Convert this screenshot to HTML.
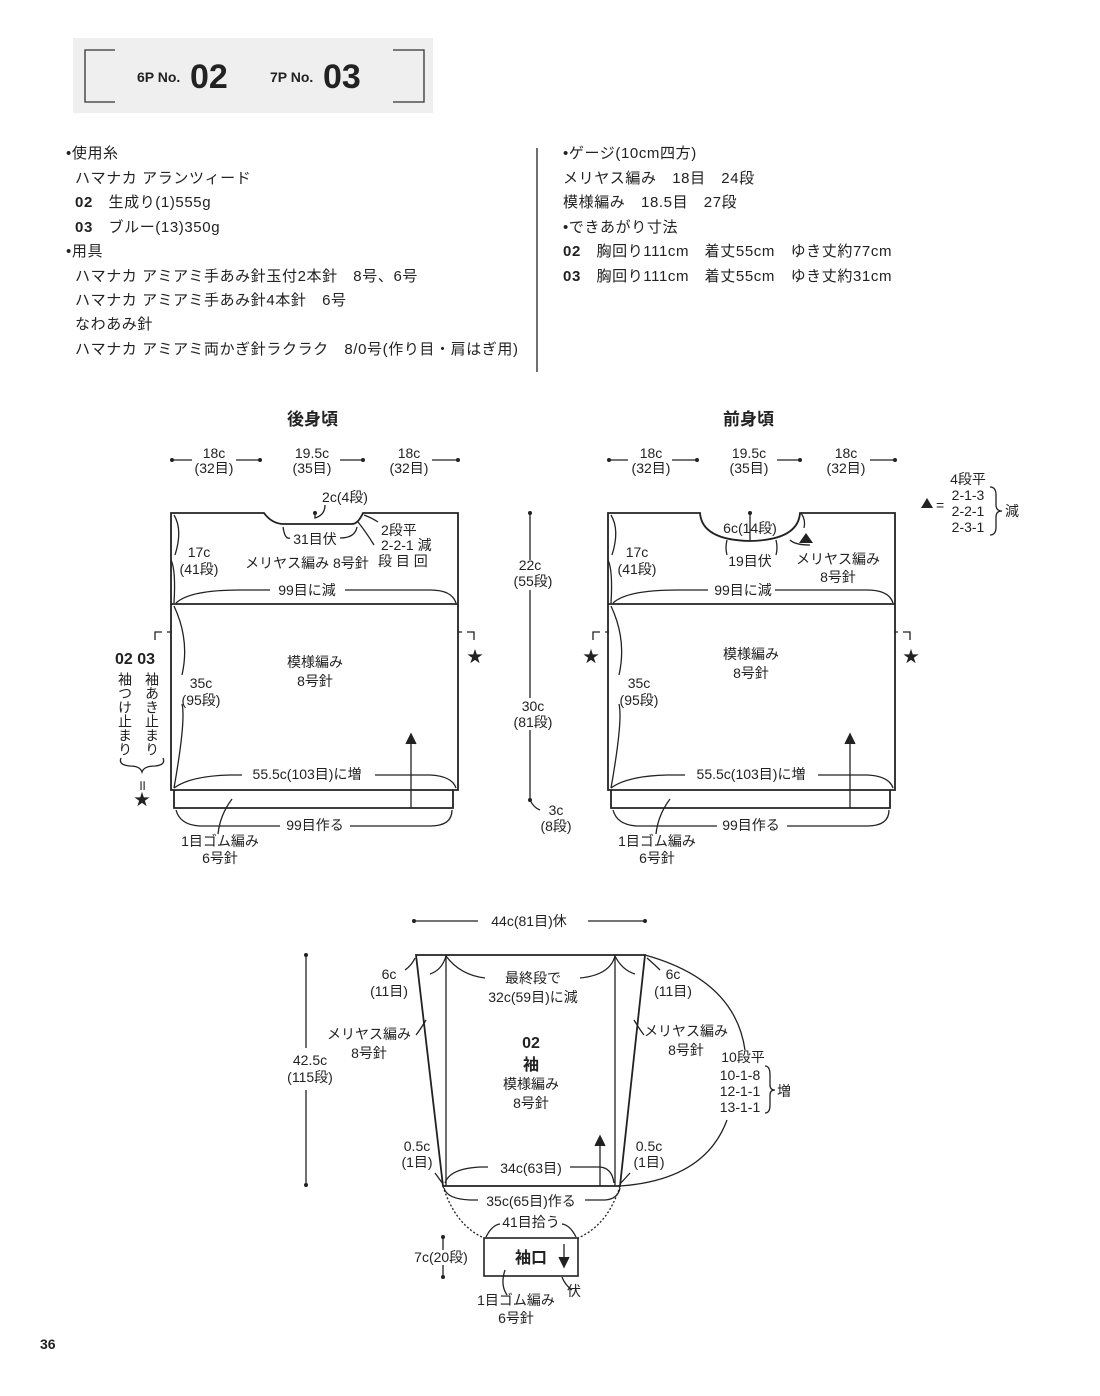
<!DOCTYPE html>
<html><head><meta charset="utf-8"><style>
body{margin:0;background:#fff}
svg{display:block}
text{font-family:"Liberation Sans","Noto Sans CJK JP",sans-serif;fill:#222}
.t{font-size:14px}
.b{font-size:15px;letter-spacing:0.6px}
</style></head><body>
<svg width="1100" height="1396" viewBox="0 0 1100 1396" xmlns="http://www.w3.org/2000/svg">
<g stroke="#222" fill="none" stroke-width="1.3">
<rect x="73" y="38" width="360" height="75" fill="#efefef" stroke="none"/>
<path d="M115 50H85V102H115M393 50H424V102H393" stroke="#333"/>
<line x1="537" y1="148" x2="537" y2="372"/>
</g>
<text x="137" y="82" style="font-size:14px;font-weight:bold">6P No.</text>
<text x="190" y="88" style="font-size:34px;font-weight:bold">02</text>
<text x="270" y="82" style="font-size:14px;font-weight:bold">7P No.</text>
<text x="323" y="88" style="font-size:34px;font-weight:bold">03</text>
<g class="b">
<text x="66" y="158">•使用糸</text>
<text x="75" y="183">ハマナカ アランツィード</text>
<text x="75" y="207"><tspan font-weight="bold">02</tspan>　生成り(1)555g</text>
<text x="75" y="232"><tspan font-weight="bold">03</tspan>　ブルー(13)350g</text>
<text x="66" y="256">•用具</text>
<text x="75" y="281">ハマナカ アミアミ手あみ針玉付2本針　8号、6号</text>
<text x="75" y="305">ハマナカ アミアミ手あみ針4本針　6号</text>
<text x="75" y="329">なわあみ針</text>
<text x="75" y="354">ハマナカ アミアミ両かぎ針ラクラク　8/0号(作り目・肩はぎ用)</text>
<text x="563" y="158">•ゲージ(10cm四方)</text>
<text x="563" y="183">メリヤス編み　18目　24段</text>
<text x="563" y="207">模様編み　18.5目　27段</text>
<text x="563" y="232">•できあがり寸法</text>
<text x="563" y="256"><tspan font-weight="bold">02</tspan>　胸回り111cm　着丈55cm　ゆき丈約77cm</text>
<text x="563" y="281"><tspan font-weight="bold">03</tspan>　胸回り111cm　着丈55cm　ゆき丈約31cm</text>
</g>
<text x="287" y="425" style="font-size:17px;font-weight:bold">後身頃</text>
<text x="723" y="425" style="font-size:17px;font-weight:bold">前身頃</text>

<g stroke="#222" fill="none" stroke-width="1.3">
<path d="M171 513H264Q272 524 284 524H352Q358 524 363 513H458V790H171Z" stroke-width="1.8"/>
<line x1="171" y1="604" x2="458" y2="604" stroke-width="1.8"/>
<path d="M174 790V808H453V790" stroke-width="1.8"/>
<line x1="411" y1="808" x2="411" y2="735"/>
<path d="M406 744L411 734L416 744" fill="#222"/>
<path d="M172 460H192M236 460H260M340 460H363M432 460H458"/>
<path d="M608 513H700Q702 540 750 541Q798 540 800 513H895V790H608Z" stroke-width="1.8"/>
<line x1="608" y1="604" x2="895" y2="604" stroke-width="1.8"/>
<path d="M611 790V808H890V790" stroke-width="1.8"/>
<line x1="850" y1="808" x2="850" y2="735"/>
<path d="M845 744L850 734L855 744" fill="#222"/>
<path d="M609 460H628M672 460H697M777 460H800M870 460H895"/>
<line x1="750" y1="513" x2="750" y2="541"/>
<line x1="530" y1="513" x2="530" y2="560"/>
<line x1="530" y1="590" x2="530" y2="698"/>
<line x1="530" y1="730" x2="530" y2="800"/>
<path d="M530 800Q534 808 540 810"/>
<path d="M174 603Q176 570 171 560M175 555Q183 530 174 515"/>
<path d="M176 603Q190 590 240 590H270M345 590H430Q452 590 456 603"/>
<path d="M174 788Q190 776 230 775H242M375 775H430Q452 776 456 788"/>
<path d="M174 788Q186 720 182 704M182 675Q190 640 174 606"/>
<path d="M176 810Q180 825 200 826H280M350 826H430Q452 826 452 810"/>
<path d="M232 799Q220 815 218 834"/>
<path d="M283 527Q285 540 290 538M340 538Q355 538 357 527"/>
<path d="M364 515Q372 518 378 522M358 522Q366 532 374 545"/>
<path d="M315 513V518Q325 515 325 505"/>
<path d="M611 603Q613 570 608 560M612 555Q620 530 611 515"/>
<path d="M613 603Q627 590 677 590H708M775 590H867Q889 590 893 603"/>
<path d="M611 788Q627 776 667 775H685M818 775H867Q889 776 893 788"/>
<path d="M611 788Q623 720 619 704M619 675Q627 640 611 606"/>
<path d="M613 810Q617 825 637 826H717M787 826H867Q889 826 889 810"/>
<path d="M670 799Q658 815 656 834"/>
<path d="M727 540Q725 548 727 555M776 540Q778 548 776 555M790 540Q795 545 810 545"/>
<path d="M801 513Q806 520 804 528"/>
<path d="M155 640V632H162M167 632H172"/>
<path d="M474 640V632H467M462 632H458"/>
<path d="M593 640V632H600M605 632H609"/>
<path d="M910 640V632H903M898 632H895"/>
<path d="M121 758Q118 765 130 766Q140 766 142 772Q144 766 155 766Q166 765 163 758"/>
<path d="M416 955H645L620 1186H443Z" stroke-width="1.8"/>
<path d="M446 955V1186M615 955V1186" stroke-width="1.3"/>
<line x1="600" y1="1186" x2="600" y2="1137"/>
<path d="M595 1146L600 1136L605 1146" fill="#222"/>
<rect x="484" y="1238" width="94" height="38" stroke-width="1.6"/>
<line x1="564" y1="1244" x2="564" y2="1266"/>
<path d="M559 1257L564 1267L569 1257" fill="#222"/>
<path d="M443 1186Q455 1225 484 1238M620 1186Q608 1225 578 1238" stroke-dasharray="2 2"/>
<line x1="306" y1="955" x2="306" y2="1048"/>
<line x1="306" y1="1090" x2="306" y2="1185"/>
<line x1="443" y1="1237" x2="443" y2="1250"/><line x1="443" y1="1265" x2="443" y2="1277"/>
<path d="M414 921H478M588 921H645"/>
<path d="M446 956Q460 975 485 978M580 978Q610 975 615 956"/>
<path d="M415 958Q412 965 405 970M446 956Q442 970 430 974"/>
<path d="M647 958Q655 965 660 970M615 956Q622 970 635 974"/>
<path d="M645 955Q735 980 745 1050M727 1120Q705 1180 620 1186"/>
<path d="M426 1020Q420 1030 416 1035M634 1020Q640 1030 644 1035"/>
<path d="M445 1183Q450 1168 482 1167H488M570 1167H600Q612 1168 614 1183"/>
<path d="M444 1188Q447 1199 470 1200H478M585 1200H605Q618 1199 620 1188"/>
<path d="M486 1237Q492 1225 500 1224M562 1224Q570 1225 576 1237"/>
<path d="M435 1173L443 1184M630 1173L620 1184"/>
<path d="M505 1270Q500 1285 507 1295M562 1277Q565 1285 572 1290"/>
<path d="M765 1066Q770 1066 770 1075V1085Q770 1090 775 1090Q770 1090 770 1095V1105Q770 1113 765 1113"/>
<path d="M990 487Q996 487 996 495V505Q996 511 1002 511Q996 511 996 517V527Q996 535 990 535"/>
</g>
<g fill="#222">
<circle cx="172" cy="460" r="2"/><circle cx="260" cy="460" r="2"/><circle cx="363" cy="460" r="2"/><circle cx="458" cy="460" r="2"/>
<circle cx="609" cy="460" r="2"/><circle cx="697" cy="460" r="2"/><circle cx="800" cy="460" r="2"/><circle cx="895" cy="460" r="2"/>
<circle cx="530" cy="513" r="2"/><circle cx="530" cy="800" r="2"/><circle cx="315" cy="513" r="2"/><circle cx="750" cy="513" r="2"/>
<circle cx="306" cy="955" r="2"/><circle cx="306" cy="1185" r="2"/><circle cx="414" cy="921" r="2"/><circle cx="645" cy="921" r="2"/>
<circle cx="443" cy="1237" r="2"/><circle cx="443" cy="1277" r="2"/>
<path d="M799 543L806 533L813 543Z"/>
<path d="M921 508L927 498L933 508Z"/>
</g>
<g class="t" text-anchor="middle">
<text x="214" y="458">18c</text><text x="214" y="473">(32目)</text>
<text x="312" y="458">19.5c</text><text x="312" y="473">(35目)</text>
<text x="409" y="458">18c</text><text x="409" y="473">(32目)</text>
<text x="651" y="458">18c</text><text x="651" y="473">(32目)</text>
<text x="749" y="458">19.5c</text><text x="749" y="473">(35目)</text>
<text x="846" y="458">18c</text><text x="846" y="473">(32目)</text>
<text x="345" y="502">2c(4段)</text>
<text x="315" y="544">31目伏</text>
<text x="199" y="557">17c</text><text x="199" y="574">(41段)</text>
<text x="307" y="568">メリヤス編み 8号針</text>
<text x="307" y="595">99目に減</text>
<text x="315" y="667">模様編み</text><text x="315" y="686">8号針</text>
<text x="201" y="688">35c</text><text x="201" y="705">(95段)</text>
<text x="307" y="779">55.5c(103目)に増</text>
<text x="315" y="830">99目作る</text>
<text x="220" y="846">1目ゴム編み</text><text x="220" y="863">6号針</text>
<text x="530" y="570">22c</text><text x="533" y="586">(55段)</text>
<text x="533" y="711">30c</text><text x="533" y="727">(81段)</text>
<text x="556" y="815">3c</text><text x="556" y="831">(8段)</text>
<text x="750" y="533">6c(14段)</text>
<text x="750" y="566">19目伏</text>
<text x="838" y="564">メリヤス編み</text><text x="838" y="582">8号針</text>
<text x="637" y="557">17c</text><text x="637" y="574">(41段)</text>
<text x="743" y="595">99目に減</text>
<text x="751" y="659">模様編み</text><text x="751" y="678">8号針</text>
<text x="639" y="688">35c</text><text x="639" y="705">(95段)</text>
<text x="751" y="779">55.5c(103目)に増</text>
<text x="751" y="830">99目作る</text>
<text x="657" y="846">1目ゴム編み</text><text x="657" y="863">6号針</text>
<text x="968" y="484">4段平</text>
<text x="968" y="500">2-1-3</text><text x="968" y="516">2-2-1</text><text x="968" y="532">2-3-1</text>
<text x="529" y="926">44c(81目)休</text>
<text x="389" y="979">6c</text><text x="389" y="996">(11目)</text>
<text x="533" y="983">最終段で</text><text x="533" y="1002">32c(59目)に減</text>
<text x="673" y="979">6c</text><text x="673" y="996">(11目)</text>
<text x="369" y="1039">メリヤス編み</text><text x="369" y="1058">8号針</text>
<text x="686" y="1036">メリヤス編み</text><text x="686" y="1055">8号針</text>
<text x="310" y="1065">42.5c</text><text x="310" y="1082">(115段)</text>
<text x="417" y="1151">0.5c</text><text x="417" y="1167">(1目)</text>
<text x="649" y="1151">0.5c</text><text x="649" y="1167">(1目)</text>
<text x="531" y="1173">34c(63目)</text>
<text x="531" y="1206">35c(65目)作る</text>
<text x="531" y="1227">41目拾う</text>
<text x="441" y="1262">7c(20段)</text>
<text x="516" y="1305">1目ゴム編み</text><text x="516" y="1323">6号針</text>
<text x="743" y="1062">10段平</text>
<text x="740" y="1080">10-1-8</text><text x="740" y="1096">12-1-1</text><text x="740" y="1112">13-1-1</text>
</g>
<g class="t">
<text x="381" y="535">2段平</text>
<text x="381" y="550">2-2-1 減</text>
<text x="378" y="566">段 目 回</text>
<text x="936" y="510">=</text>
<text x="1005" y="516">減</text>
<text x="777" y="1096">増</text>
<text x="567" y="1296">伏</text>
</g>
<text x="115" y="664" style="font-size:16px;font-weight:bold">02 03</text>
<text x="125" y="672" class="t" style="writing-mode:vertical-rl">袖つけ止まり</text>
<text x="152" y="672" class="t" style="writing-mode:vertical-rl">袖あき止まり</text>
<text x="142" y="790" class="t" text-anchor="middle">॥</text>
<text x="142" y="805" style="font-size:16px" text-anchor="middle">★</text>
<text x="475" y="662" style="font-size:16px" text-anchor="middle">★</text>
<text x="591" y="662" style="font-size:16px" text-anchor="middle">★</text>
<text x="911" y="662" style="font-size:16px" text-anchor="middle">★</text>
<text x="531" y="1048" style="font-size:16px;font-weight:bold" text-anchor="middle">02</text>
<text x="531" y="1070" style="font-size:16px;font-weight:bold" text-anchor="middle">袖</text>
<text x="531" y="1089" class="t" text-anchor="middle">模様編み</text>
<text x="531" y="1108" class="t" text-anchor="middle">8号針</text>
<text x="531" y="1263" style="font-size:16px;font-weight:bold" text-anchor="middle">袖口</text>
<text x="40" y="1349" style="font-size:14px;font-weight:bold">36</text>
</svg>
</body></html>
